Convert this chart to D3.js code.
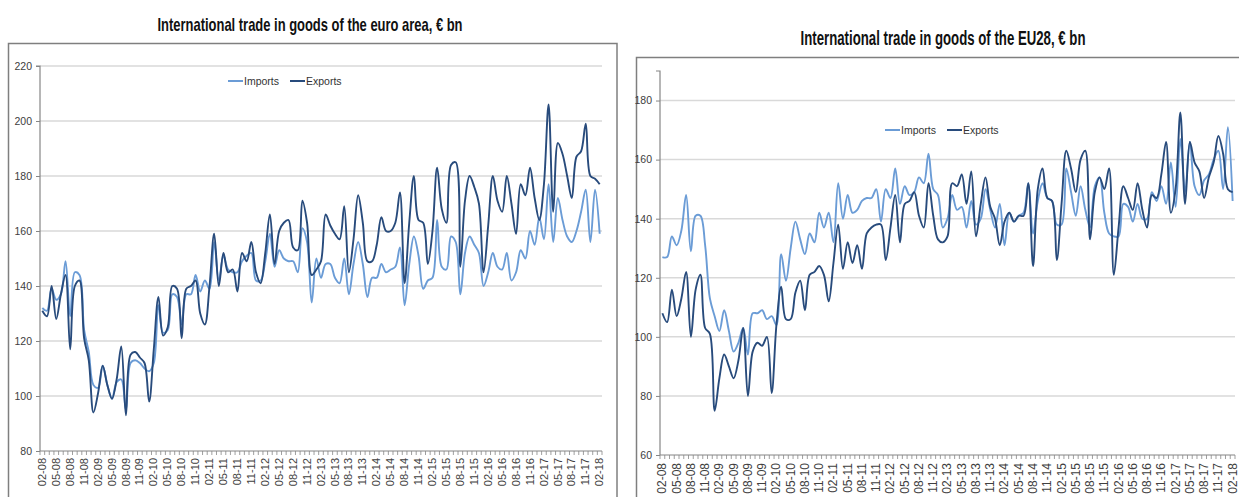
<!DOCTYPE html>
<html><head><meta charset="utf-8">
<script src="https://cdn.jsdelivr.net/npm/d3@7"></script>
<style>
html,body{margin:0;padding:0;background:#fff;}
svg{display:block;}
text{font-family:"Liberation Sans Narrow","Arial Narrow","Liberation Sans",Arial,sans-serif;}
</style></head>
<body>
<svg id="c" width="1239" height="497"></svg>
<script>
// Month labels Feb-2008 .. Feb-2018 (MM-YY), one per month
const months = [];
for (let y = 8; y <= 18; y++) {
  for (let m = 1; m <= 12; m++) {
    if ((y === 8 && m < 2) || (y === 18 && m > 2)) continue;
    months.push(String(m).padStart(2, "0") + "-" + String(y).padStart(2, "0"));
  }
}
const seriesNames = ["Imports", "Exports"];

// Euro area, € bn
const eaImports = [132,131,139,135,137,149,129,145,144,124,116,104,103,111,104,99,105,106,95,112,
  113,112,110,109,112,133,123,124,137,136,126,137,137,144,138,142,139,156,142,151,
  146,145,145,149,151,152,142,142,149,159,147,153,150,149,149,145,161,156,134,150,
  143,148,148,143,141,150,137,148,156,148,136,143,143,148,145,146,147,154,133,148,
  158,151,139,142,143,164,147,146,158,156,137,152,158,155,152,140,145,152,147,146,
  152,142,145,153,150,160,155,165,157,177,156,172,164,158,156,160,167,175,156,175,159];
const eaExports = [131,129,140,128,137,144,117,140,142,121,113,94,101,111,104,99,106,118,93,115,
  116,114,112,98,117,136,122,125,140,139,121,139,140,142,130,126,140,159,140,152,
  145,146,138,152,149,156,145,141,152,166,148,160,163,164,154,153,171,163,144,146,
  149,166,162,159,157,169,145,157,173,163,149,149,155,165,160,160,163,174,141,163,
  180,164,163,148,160,183,168,163,184,185,147,171,180,176,170,145,162,180,171,167,
  180,170,159,177,173,183,172,164,177,206,167,192,188,180,172,187,189,199,180,179,177];

// EU28, € bn
const euImports = [127,127,134,131,136,148,129,141,141,131,113,107,102,109,102,95,98,103,94,108,
  108,109,106,107,104,128,119,130,139,133,128,135,132,142,137,142,132,152,140,148,
  142,143,146,147,147,150,139,150,147,157,145,151,148,149,154,152,162,150,148,137,
  140,148,143,144,137,146,138,140,150,143,137,145,131,142,139,141,142,152,135,146,
  152,147,146,138,138,157,149,141,151,143,137,151,154,142,135,134,134,145,144,139,
  145,140,140,149,146,151,145,159,144,167,149,166,151,148,153,155,160,163,150,171,146];
const euExports = [108,105,116,107,113,122,100,116,121,103,101,75,86,94,90,86,92,103,80,95,
  98,97,100,81,104,117,106,106,115,119,109,121,122,124,121,112,125,138,123,132,
  125,131,123,135,137,138,138,126,137,148,132,145,146,149,141,137,152,141,133,132,
  134,152,151,155,145,156,134,145,154,144,140,131,139,142,139,141,141,152,124,150,
  157,147,146,126,145,163,157,149,160,163,133,149,154,150,157,121,137,151,147,143,
  152,143,137,148,147,155,166,142,150,176,145,166,159,156,147,154,159,168,162,150,149];

const leftTicks = [80,100,120,140,160,180,200,220];
const rightTicks = [60,80,100,120,140,160,180];

const colors = {Imports: "#6b9cd6", Exports: "#284b7c"};
const svg = d3.select("#c");

function panel(cfg) {
  const g = svg.append("g");
  // frame
  g.append("rect").attr("x", cfg.frame[0]).attr("y", cfg.frame[1])
    .attr("width", cfg.frame[2]).attr("height", cfg.frame[3])
    .attr("fill", "none").attr("stroke", "#7f7f7f").attr("stroke-width", 1.5);
  // title
  g.append("text").attr("x", cfg.titleX).attr("y", cfg.titleY)
    .attr("text-anchor", "middle").attr("font-weight", "bold")
    .attr("font-size", cfg.titleSize).attr("fill", "#111")
    .attr("textLength", cfg.titleLen).attr("lengthAdjust", "spacingAndGlyphs")
    .text(cfg.title);

  const x = d3.scaleBand().domain(months).range(cfg.xRange).paddingInner(0).paddingOuter(0);
  const y = d3.scaleLinear().domain(cfg.yDomain).range(cfg.yRange);
  const cx = d => x(d) + x.bandwidth() / 2;

  // gridlines
  g.append("g").selectAll("line").data(cfg.ticks.slice(1)).join("line")
    .attr("x1", cfg.xRange[0]).attr("x2", cfg.xRange[1])
    .attr("y1", d => y(d)).attr("y2", d => y(d))
    .attr("stroke", "#d9d9d9").attr("stroke-width", 1.5);

  // y axis
  const ya = d3.axisLeft(y).tickValues(cfg.ticks).tickSize(4).tickPadding(4).tickFormat(d3.format("d"));
  const yg = g.append("g").attr("transform", `translate(${cfg.xRange[0]},0)`).call(ya);
  yg.select(".domain").attr("stroke", "#868686").attr("stroke-width", 1.2)
    .attr("d", `M-4,${cfg.yRange[1]}H0V${cfg.yRange[0]}`);
  yg.selectAll(".tick line").attr("stroke", "#868686");
  yg.selectAll(".tick text").attr("font-size", cfg.yFont).attr("fill", "#404040")
    .style("font-family", '"Liberation Sans Narrow","Arial Narrow",sans-serif');

  // x axis: tick at every category boundary, label every 3rd month
  const bounds = months.map(m => x(m)).concat([cfg.xRange[1]]);
  const xg = g.append("g");
  xg.append("line").attr("x1", cfg.xRange[0]).attr("x2", cfg.xRange[1])
    .attr("y1", cfg.yRange[0]).attr("y2", cfg.yRange[0])
    .attr("stroke", "#868686").attr("stroke-width", 1.2);
  xg.selectAll("line.t").data(bounds).join("line").attr("class", "t")
    .attr("x1", d => d).attr("x2", d => d)
    .attr("y1", cfg.yRange[0]).attr("y2", cfg.yRange[0] + 4)
    .attr("stroke", "#868686").attr("stroke-width", 0.8);
  xg.selectAll("text").data(months.filter((m, i) => i % 3 === 0)).join("text")
    .attr("transform", d => `translate(${cx(d) + cfg.xFont * 0.33},${cfg.yRange[0] + cfg.xLabGap}) rotate(-90)`)
    .attr("text-anchor", "end").attr("font-size", cfg.xFont).attr("fill", "#404040")
    .text(d => d);

  // lines
  const line = d3.line().x((d, i) => cx(months[i])).y(d => y(d)).curve(d3.curveCatmullRom.alpha(0.5));
  [["Imports", cfg.imp], ["Exports", cfg.exp]].forEach(([name, vals]) => {
    g.append("path").datum(vals).attr("d", line).attr("fill", "none")
      .attr("stroke", colors[name]).attr("stroke-width", 1.9).attr("stroke-linejoin", "round");
  });

  // legend
  const lg = g.append("g");
  seriesNames.forEach((n, i) => {
    const lx = cfg.legend[i];
    lg.append("line").attr("x1", lx).attr("x2", lx + 15).attr("y1", cfg.legendY).attr("y2", cfg.legendY)
      .attr("stroke", colors[n]).attr("stroke-width", 2);
    lg.append("text").attr("x", lx + 16).attr("y", cfg.legendY + 3.5).attr("font-size", cfg.legFont)
      .attr("fill", "#333").text(n);
  });
}

panel({
  title: "International trade in goods of the euro area, € bn",
  titleX: 310, titleY: 31, titleSize: 18.5, titleLen: 305,
  frame: [8.5, 43.5, 608.5, 470],
  xRange: [40, 602], yDomain: [80, 220], yRange: [451, 66], ticks: leftTicks,
  imp: eaImports, exp: eaExports,
  legend: [228, 290], legendY: 81, legFont: 10.5, yFont: 10.5, xFont: 11, xLabGap: 7
});
panel({
  title: "International trade in goods of the EU28, € bn",
  titleX: 943, titleY: 45, titleSize: 19.5, titleLen: 285,
  frame: [636.5, 57.5, 700, 470],
  xRange: [660, 1235], yDomain: [60, 190], yRange: [455, 71], ticks: rightTicks,
  imp: euImports, exp: euExports,
  legend: [885, 947], legendY: 130, legFont: 10.5, yFont: 10.5, xFont: 12, xLabGap: 8
});
</script>
</body></html>
